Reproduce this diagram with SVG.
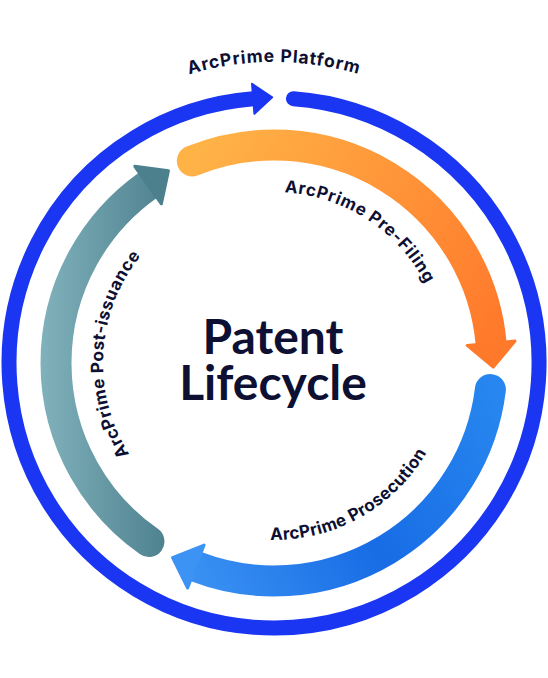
<svg xmlns="http://www.w3.org/2000/svg" width="548" height="678" viewBox="0 0 548 678">
  <style>
    .lbl { font-family: Inter, Lato, "Liberation Sans", sans-serif; font-weight: 700; fill: #0d1033; }
    .inner { font-size: 17px; letter-spacing: 0.4px; }
    .title { font-family: Lato, "Liberation Sans", sans-serif; font-weight: 700; font-size: 48px; fill: #0d1033; text-anchor: middle; }
  </style>
  <defs>
    <linearGradient id="gOrange" gradientUnits="userSpaceOnUse" x1="192" y1="160" x2="491" y2="345">
      <stop offset="0" stop-color="#ffb347"/>
      <stop offset="1" stop-color="#ff792b"/>
    </linearGradient>
    <linearGradient id="gBlue" gradientUnits="userSpaceOnUse" x1="490" y1="385" x2="175" y2="565">
      <stop offset="0" stop-color="#2786ef"/>
      <stop offset="0.5" stop-color="#186ce5"/>
      <stop offset="1" stop-color="#3c93f3"/>
    </linearGradient>
    <linearGradient id="gTeal" gradientUnits="userSpaceOnUse" x1="40" y1="363" x2="170" y2="363">
      <stop offset="0" stop-color="#81b2bc"/>
      <stop offset="1" stop-color="#4c808d"/>
    </linearGradient>
    <path id="tpPlatform" d="M 13.33 212.5 A 301 301 0 0 1 534.67 212.5"/>
    <path id="tpPre" d="M 196.37 210.64 A 171 171 0 0 1 444.77 371.95"/>
    <path id="tpPost" d="M 180.12 505.92 A 171 171 0 0 1 197.17 210.23"/>
    <path id="tpPros" d="M 183.35 515.03 A 177 177 0 0 0 450.98 365.47"/>
  </defs>

  <g id="connectors">
    <g id="platform-ring">
      <path d="M 293.41 98.71 A 265 265 0 1 1 253.21 98.82" fill="none" stroke="#1a36f2" stroke-width="15" stroke-linecap="round"/>
      <polygon points="252.03,83.87 272.15,97.33 254.39,113.77" fill="#1a36f2" stroke="#1a36f2" stroke-width="2" stroke-linejoin="round"/>
    </g>
    <g id="arc-prefiling">
      <path d="M 192.34 160.87 A 218 218 0 0 1 491.1 343.24" fill="none" stroke="url(#gOrange)" stroke-width="31" stroke-linecap="round"/>
      <polygon points="515.0,341.06 493.27,367.14 467.2,345.42" fill="#ff792b" stroke="#ff792b" stroke-width="3" stroke-linejoin="round"/>
    </g>
    <g id="arc-prosecution">
      <path d="M 490.38 389.57 A 218 218 0 0 1 195.88 566.52" fill="none" stroke="url(#gBlue)" stroke-width="31" stroke-linecap="round"/>
      <polygon points="187.64,587.99 172.54,557.56 204.12,545.05" fill="#3c93f3" stroke="#3c93f3" stroke-width="3" stroke-linejoin="round"/>
    </g>
    <g id="arc-postissuance">
      <path d="M 148.96 541.57 A 218 218 0 0 1 148.06 185.06" fill="none" stroke="url(#gTeal)" stroke-width="31" stroke-linecap="round"/>
      <polygon points="134.77,166.29 168.47,170.62 161.35,203.83" fill="#4c808d" stroke="#4c808d" stroke-width="3" stroke-linejoin="round"/>
    </g>
  </g>

  <g id="node-platform">
    <text class="lbl" font-size="17.5" letter-spacing="0.8"><textPath href="#tpPlatform" startOffset="50%" text-anchor="middle" textLength="172" lengthAdjust="spacing">ArcPrime Platform</textPath></text>
  </g>
  <g id="node-prefiling">
    <text class="lbl inner"><textPath href="#tpPre" startOffset="50%" text-anchor="middle" textLength="176" lengthAdjust="spacing">ArcPrime Pre-Filing</textPath></text>
  </g>
  <g id="node-prosecution">
    <text class="lbl inner"><textPath href="#tpPros" startOffset="50%" text-anchor="middle" textLength="188" lengthAdjust="spacing">ArcPrime Prosecution</textPath></text>
  </g>
  <g id="node-postissuance">
    <text class="lbl inner"><textPath href="#tpPost" startOffset="50%" text-anchor="middle" textLength="212" lengthAdjust="spacing">ArcPrime Post-issuance</textPath></text>
  </g>
  <g id="node-title">
    <text class="title"><tspan x="273" y="354">Patent</tspan><tspan x="273" y="400">Lifecycle</tspan></text>
  </g>
</svg>
